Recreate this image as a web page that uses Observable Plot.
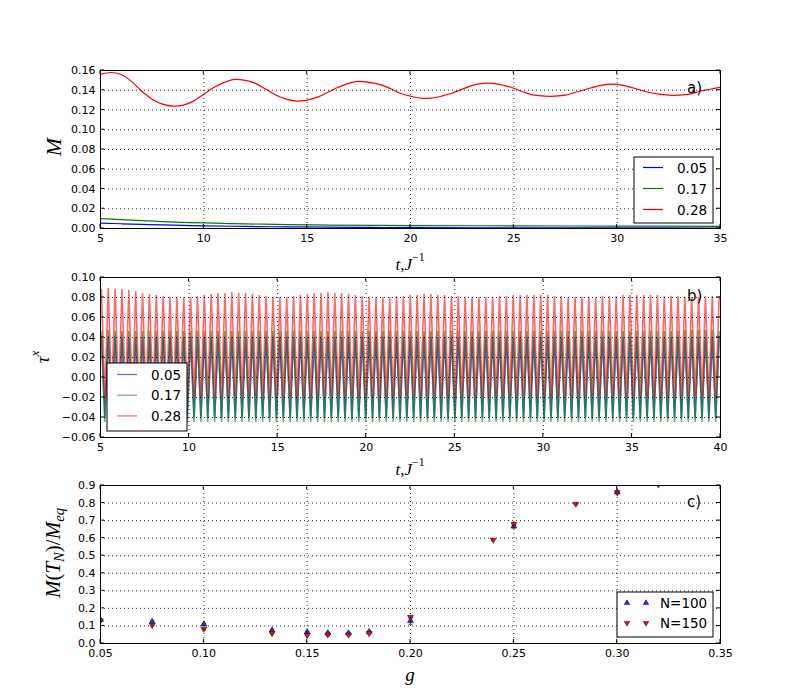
<!DOCTYPE html>
<html><head><meta charset="utf-8">
<script src="https://cdn.jsdelivr.net/npm/d3@7"></script>
<script src="https://cdn.jsdelivr.net/npm/@observablehq/plot@0.6"></script>
<style>
body{margin:0;background:#fff;}
#wrap{position:relative;width:800px;height:700px;font-family:"DejaVu Sans",sans-serif;}
#wrap > svg{position:absolute;left:0;}
</style></head><body><div id="wrap"></div>
<script>
// ---------- Panel a data: M(t) ----------
const seriesNames = ["0.05", "0.17", "0.28"];
const seriesColors = ["#0000ff", "#008000", "#ff0000"];
const tRedA = [5,5.5,6,6.5,7,7.5,8,8.5,9,9.5,10,10.5,11,11.5,12,12.5,13,13.5,14,14.5,15,15.5,16,16.5,17,17.5,18,18.5,19,19.5,20,20.5,21,21.5,22,22.5,23,23.5,24,24.5,25,25.5,26,26.5,27,27.5,28,28.5,29,29.5,30,30.5,31,31.5,32,32.5,33,33.5,34,34.5,35];
const mRedA = [0.156,0.158,0.156,0.149,0.139,0.131,0.126,0.124,0.125,0.129,0.136,0.143,0.148,0.151,0.150,0.147,0.141,0.135,0.131,0.129,0.130,0.133,0.138,0.143,0.147,0.149,0.148,0.146,0.142,0.137,0.134,0.132,0.132,0.134,0.137,0.141,0.145,0.147,0.147,0.145,0.142,0.138,0.135,0.134,0.134,0.135,0.138,0.141,0.144,0.146,0.146,0.144,0.141,0.138,0.136,0.135,0.135,0.136,0.139,0.141,0.143];
const tLowA = [5,6,7,8,9,10,12,14,16,18,20,25,30,35];
const mGreenA = [0.010,0.009,0.008,0.007,0.0062,0.0056,0.0047,0.0040,0.0035,0.0032,0.0030,0.0027,0.0024,0.0022];
const mBlueA = [0.0055,0.0048,0.0042,0.0036,0.0031,0.0027,0.0021,0.0016,0.0013,0.0011,0.0009,0.0007,0.0006,0.0005];
const xTicksA = [5,10,15,20,25,30,35];
const yTicksA = [0,0.02,0.04,0.06,0.08,0.10,0.12,0.14,0.16];

// ---------- Panel b data: tau^x(t), successive maxima / minima (x 0.001) ----------
const tauStart = 5.05;      // time of first maximum
const tauPeriod = 0.3875;   // oscillation period
const redPeaks = `88 89 88 88 87  86 84 83 82 81  80 80 80 80 81  82 83 84 84 85
 84 84 83 82 81  80 80 80 81 82  83 84 84 85 84  84 83 82 81 80
 80 80 80 81 81  82 82 83 83 82  82 81 81 80 80  80 80 80 81 81
 82 82 82 82 82  82 81 81 80 80  80 80 80 81 81  81 82 82 82 82
 82 82 81 81 81  80 80 80 81 81  81`;
const redTroughs = `-19 -19 -20 -20 -20  -19 -19 -18 -18 -18  -18 -18 -19 -19 -19  -19 -19 -19 -19 -18
 -18 -18 -18 -18 -19  -19 -19 -19 -19 -19  -19 -18 -18 -18 -18  -18 -18 -19 -19 -19
 -19 -19 -19 -19 -18  -18 -18 -18 -18 -18  -19 -19 -19 -19 -19  -19 -19 -18 -18 -18
 -18 -18 -18 -19 -19  -19 -19 -19 -19 -19  -18 -18 -18 -18 -18  -18 -19 -19 -19 -19
 -19 -19 -19 -18 -18  -18 -18 -18 -19 -19`;
const greenPeaks = `46 47 46 46 46  46 46 46 46 46  46 46 46 46 46  46 46 46 46 46
 46 46 46 46 46  46 46 46 46 46  46 46 46 46 46  46 46 46 46 46
 46 46 46 46 46  46 46 46 46 46  46 46 46 46 46  46 46 46 46 46
 46 46 46 46 46  46 46 46 46 46  46 46 46 46 46  46 46 46 46 46
 46 46 46 46 46  47 47 47 47 47  46`;
const greenTroughs = `-44 -44 -44 -44 -44  -44 -44 -44 -44 -44  -44 -44 -44 -44 -44  -44 -44 -44 -44 -44
 -44 -44 -44 -44 -44  -44 -44 -44 -44 -44  -44 -44 -44 -44 -44  -44 -44 -44 -44 -44
 -44 -44 -44 -44 -44  -44 -44 -44 -44 -44  -44 -44 -44 -44 -44  -44 -44 -44 -44 -44
 -44 -44 -44 -44 -44  -44 -44 -44 -44 -44  -44 -44 -44 -44 -44  -44 -44 -44 -44 -44
 -44 -44 -44 -44 -44  -44 -44 -44 -44 -44`;
const bluePeaks = `41 41 41 40 40  40 40 40 40 40  40 40 40 40 40  40 40 40 40 40
 40 40 40 40 40  40 40 40 40 40  40 40 40 40 40  40 40 40 40 40
 40 40 40 40 40  40 40 40 40 40  40 40 40 40 40  40 40 40 40 40
 40 40 40 40 40  40 40 40 40 40  40 40 40 40 40  40 40 40 40 40
 40 40 40 40 40  40 40 40 40 40  40`;
const blueTroughs = `-40 -40 -40 -40 -40  -40 -40 -40 -40 -40  -40 -40 -40 -40 -40  -40 -40 -40 -40 -40
 -40 -40 -40 -40 -40  -40 -40 -40 -40 -40  -40 -40 -40 -40 -40  -40 -40 -40 -40 -40
 -40 -40 -40 -40 -40  -40 -40 -40 -40 -40  -40 -40 -40 -40 -40  -40 -40 -40 -40 -40
 -40 -40 -40 -40 -40  -40 -40 -40 -40 -40  -40 -40 -40 -40 -40  -40 -40 -40 -40 -40
 -40 -40 -40 -40 -40  -40 -40 -40 -40 -40`;
const xTicksB = [5,10,15,20,25,30,35,40];
const yTicksB = [-0.06,-0.04,-0.02,0,0.02,0.04,0.06,0.08,0.10];

// ---------- Panel c data: M(T_N)/M_eq vs g ----------
const g100 = [0.05,0.075,0.10,0.133,0.15,0.16,0.17,0.18,0.20,0.25,0.30];
const m100 = [0.135,0.125,0.110,0.075,0.065,0.060,0.060,0.068,0.130,0.668,0.862];
const e100 = [0.004,0.006,0.006,0.005,0.005,0.004,0.004,0.004,0.020,0.010,0.008];
const g150 = [0.05,0.075,0.10,0.133,0.15,0.16,0.17,0.18,0.20,0.24,0.25,0.28,0.30,0.32];
const m150 = [0.130,0.105,0.083,0.058,0.048,0.050,0.050,0.058,0.150,0.590,0.680,0.795,0.860,0.905];
const e150 = [0.004,0.005,0.005,0.004,0.004,0.004,0.004,0.004,0.006,0.004,0.008,0.004,0.006,0.004];
const legendC = ["N=100", "N=150"];
const xTicksC = [0.05,0.10,0.15,0.20,0.25,0.30,0.35];
const yTicksC = [0,0.1,0.2,0.3,0.4,0.5,0.6,0.7,0.8,0.9];

// ---------- build tables ----------
const parse = s => s.trim().split(/\s+/).map(v => +v / 1000);
function zigzag(pkStr, trStr) {
  const pk = parse(pkStr), tr = parse(trStr), rows = [];
  for (let k = 0; k < pk.length; k++) {
    rows.push({t: tauStart + k * tauPeriod, v: pk[k]});
    if (k < tr.length) rows.push({t: tauStart + (k + 0.5) * tauPeriod, v: tr[k]});
  }
  return rows;
}
const seriesA = [
  tLowA.map((t, i) => ({t, v: mBlueA[i]})),
  tLowA.map((t, i) => ({t, v: mGreenA[i]})),
  tRedA.map((t, i) => ({t, v: mRedA[i]}))
];
const seriesB = [
  zigzag(bluePeaks, blueTroughs),
  zigzag(greenPeaks, greenTroughs),
  zigzag(redPeaks, redTroughs)
];
const dataC100 = g100.map((g, i) => ({g, m: m100[i], e: e100[i]}));
const dataC150 = g150.map((g, i) => ({g, m: m150[i], e: e150[i]}));

const wrap = document.getElementById("wrap");
const gridStyle = {stroke: "#000", strokeOpacity: 1, strokeWidth: 0.8, strokeDasharray: "1,3"};
const capSymbol = {draw(ctx) { ctx.moveTo(-2, 0); ctx.lineTo(2, 0); }};

function panel({top, height, mt, mb, xDomain, yDomain, xTicks, yTicks, xFmt, yFmt, marks}) {
  const p = Plot.plot({
    width: 800, height, marginTop: mt, marginBottom: mb, marginLeft: 100, marginRight: 80,
    x: {domain: xDomain, label: null},
    y: {domain: yDomain, label: null},
    style: {fontFamily: "DejaVu Sans", fontSize: "11px", color: "#000", background: "transparent", overflow: "visible"},
    marks: [
      ...marks,
      Plot.gridX(xTicks, gridStyle),
      Plot.gridY(yTicks, gridStyle),
      Plot.frame({stroke: "#000", strokeWidth: 1}),
      Plot.axisX(xTicks, {tickSize: 0, tickPadding: 6, tickFormat: xFmt, label: null, fontSize: 11}),
      Plot.axisY(yTicks, {tickSize: 0, tickPadding: 5, tickFormat: yFmt, label: null, fontSize: 11})
    ]
  });
  p.style.top = top + "px";
  wrap.appendChild(p);
  // inward ticks on all four sides, through the plot's own scales
  const sx = p.scale("x"), sy = p.scale("y");
  const x0 = 100, x1 = 720, y0 = mt, y1 = height - mb;
  const g = d3.select(p).append("g").attr("stroke", "#000").attr("stroke-width", 1);
  for (const v of xTicks) {
    const x = sx.apply(v);
    g.append("line").attr("x1", x).attr("x2", x).attr("y1", y1).attr("y2", y1 - 4);
    g.append("line").attr("x1", x).attr("x2", x).attr("y1", y0).attr("y2", y0 + 4);
  }
  for (const v of yTicks) {
    const y = sy.apply(v);
    g.append("line").attr("y1", y).attr("y2", y).attr("x1", x0).attr("x2", x0 + 4);
    g.append("line").attr("y1", y).attr("y2", y).attr("x1", x1).attr("x2", x1 - 4);
  }
  p._top = top;
  return p;
}

function mathText(p, x, y, parts, {size = 18, rotate = 0, anchor = "middle"} = {}) {
  const t = d3.select(p).append("text")
    .attr("transform", `translate(${x},${y - p._top}) rotate(${rotate})`)
    .attr("text-anchor", anchor).attr("dominant-baseline", "central")
    .attr("font-family", "Liberation Serif, DejaVu Serif, serif").attr("font-size", size).attr("fill", "#000");
  let shift = 0;
  for (const [s, kind, it] of parts) {
    const ts = t.append("tspan").text(s).attr("font-style", it === false ? "normal" : "italic");
    const target = kind === "sup" ? -0.42 * size : kind === "sub" ? 0.28 * size : 0;
    if (target !== shift) { ts.attr("dy", target - shift); shift = target; }
    if (kind) ts.attr("font-size", size * 0.7);
  }
}
function plainText(p, x, y, s, size = 15) {
  d3.select(p).append("text").attr("x", x).attr("y", y - p._top)
    .attr("text-anchor", "start").attr("dominant-baseline", "central").attr("font-family", "DejaVu Sans")
    .attr("font-size", size).attr("fill", "#000").text(s);
}
function legend(p, box, rows, draw) {
  const g = d3.select(p).append("g").attr("transform", `translate(0,${-p._top})`).attr("text-anchor", "start");
  g.append("rect").attr("x", box[0]).attr("y", box[1]).attr("width", box[2]).attr("height", box[3])
    .attr("fill", "#fff").attr("stroke", "#000").attr("stroke-width", 1);
  rows.forEach((r, i) => draw(g, r, i));
}

// ---------- Panel a ----------
const pa = panel({
  top: 0, height: 270, mt: 70, mb: 42,
  xDomain: [5, 35], yDomain: [0, 0.16], xTicks: xTicksA, yTicks: yTicksA,
  xFmt: d3.format("d"), yFmt: d3.format(".2f"),
  marks: seriesA.map((rows, i) =>
    Plot.line(rows, {x: "t", y: "v", stroke: seriesColors[i], strokeWidth: 1.2, curve: "catmull-rom", clip: true}))
});
mathText(pa, 53, 147, [["M"]], {size: 22, rotate: -90});
mathText(pa, 410, 264, [["t"], [",", null, false], ["J"], ["−1", "sup", false]], {size: 17});
plainText(pa, 687, 88, "a)");
legend(pa, [634, 157, 79, 66], seriesNames, (g, name, i) => {
  const y = 167.5 + i * 21;
  g.append("line").attr("x1", 643).attr("x2", 663).attr("y1", y).attr("y2", y)
    .attr("stroke", seriesColors[i]).attr("stroke-width", 1.2);
  g.append("text").attr("x", 677).attr("y", y).attr("dominant-baseline", "central")
    .attr("font-family", "DejaVu Sans").attr("font-size", 13.5).text(name);
});

// ---------- Panel b ----------
const pb = panel({
  top: 270, height: 210, mt: 7, mb: 43,
  xDomain: [5, 40], yDomain: [-0.06, 0.10], xTicks: xTicksB, yTicks: yTicksB,
  xFmt: d3.format("d"), yFmt: d3.format(".2f"),
  marks: seriesB.map((rows, i) =>
    Plot.line(rows, {x: "t", y: "v", stroke: seriesColors[i], strokeWidth: 1.6, strokeOpacity: 0.6, clip: true}))
});
mathText(pb, 42, 357, [["τ"], ["x", "sup"]], {size: 19, rotate: -90});
mathText(pb, 410, 469, [["t"], [",", null, false], ["J"], ["−1", "sup", false]], {size: 17});
plainText(pb, 687, 296, "b)");
legend(pb, [107, 363, 80, 68], seriesNames, (g, name, i) => {
  const y = 374.5 + i * 20.7;
  g.append("line").attr("x1", 117).attr("x2", 137).attr("y1", y).attr("y2", y)
    .attr("stroke", seriesColors[i]).attr("stroke-opacity", 0.6).attr("stroke-width", 1.2);
  g.append("text").attr("x", 151).attr("y", y).attr("dominant-baseline", "central")
    .attr("font-family", "DejaVu Sans").attr("font-size", 13.5).text(name);
});

// ---------- Panel c ----------
const pc = panel({
  top: 480, height: 220, mt: 5, mb: 57,
  xDomain: [0.05, 0.35], yDomain: [0, 0.9], xTicks: xTicksC, yTicks: yTicksC,
  xFmt: d3.format(".2f"), yFmt: d3.format(".1f"),
  marks: [
    Plot.ruleX(dataC100, {x: "g", y1: d => d.m - d.e, y2: d => d.m + d.e, stroke: "#000040", strokeWidth: 0.8, clip: true}),
    Plot.ruleX(dataC150, {x: "g", y1: d => d.m - d.e, y2: d => d.m + d.e, stroke: "#400000", strokeWidth: 0.8, clip: true}),
    Plot.dot(dataC100, {x: "g", y: d => d.m + d.e, symbol: capSymbol, stroke: "#000040", strokeWidth: 0.8, clip: true}),
    Plot.dot(dataC100, {x: "g", y: d => d.m - d.e, symbol: capSymbol, stroke: "#000040", strokeWidth: 0.8, clip: true}),
    Plot.dot(dataC150, {x: "g", y: d => d.m + d.e, symbol: capSymbol, stroke: "#400000", strokeWidth: 0.8, clip: true}),
    Plot.dot(dataC150, {x: "g", y: d => d.m - d.e, symbol: capSymbol, stroke: "#400000", strokeWidth: 0.8, clip: true}),
    Plot.dot(dataC100, {x: "g", y: "m", symbol: "triangle", r: 2.2, fill: "#3030dd", stroke: "#000030", strokeWidth: 0.5, clip: true}),
    Plot.dot(dataC150, {x: "g", y: "m", symbol: "triangle", rotate: 180, r: 2.2, fill: "#dd1111", stroke: "#300000", strokeWidth: 0.5, clip: true})
  ]
});
mathText(pc, 53, 553, [["M"], ["(", null, false], ["T"], ["N", "sub"], [")", null, false], ["/", null, false], ["M"], ["eq", "sub"]], {size: 21, rotate: -90});
mathText(pc, 410, 674, [["g"]], {size: 19});
plainText(pc, 687, 502, "c)");
legend(pc, [617, 592, 96, 45], legendC, (g, name, i) => {
  const y = 603 + i * 20;
  for (const x of [627, 646]) {
    g.append("path").attr("d", d3.symbol(d3.symbolTriangle, 13)())
      .attr("transform", `translate(${x},${y}) rotate(${i ? 180 : 0})`)
      .attr("fill", i ? "#dd1111" : "#3030dd").attr("stroke", i ? "#300000" : "#000030").attr("stroke-width", 0.5);
  }
  g.append("text").attr("x", 660).attr("y", y).attr("dominant-baseline", "central")
    .attr("font-family", "DejaVu Sans").attr("font-size", 13.5).text(name);
});
</script></body></html>
